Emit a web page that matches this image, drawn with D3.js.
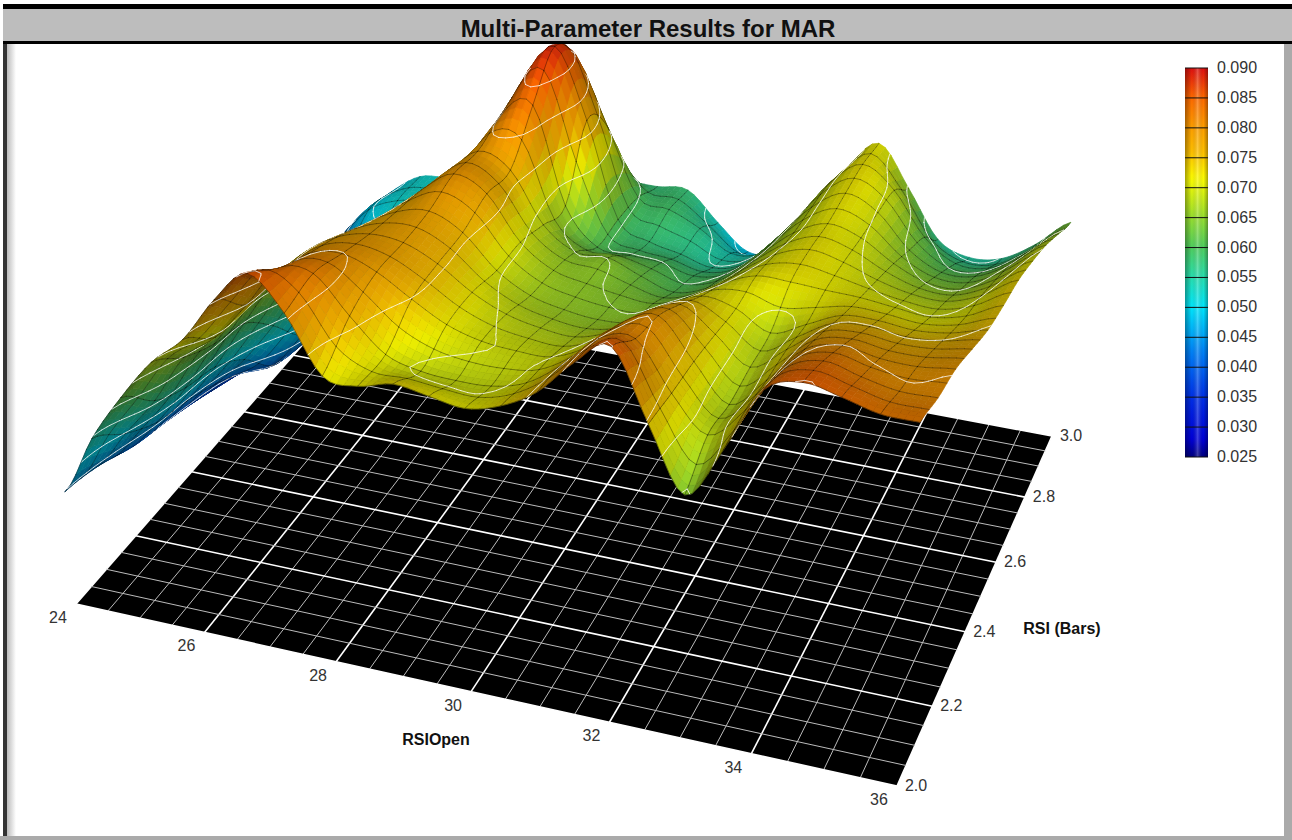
<!DOCTYPE html>
<html><head><meta charset="utf-8">
<script src="https://cdn.jsdelivr.net/npm/d3@7"></script>
<style>html,body{margin:0;padding:0;background:#fff;overflow:hidden}svg{display:block}text{font-family:"Liberation Sans",Arial,sans-serif}</style>
</head><body><svg id="chart" width="1292" height="840"></svg>
<script>
// -----------------------------------------
//DATA
// -----------------------------------------
var xTicks=[24,26,28,30,32,34,36]; //RSIOpen
var yTicks=[2.0,2.2,2.4,2.6,2.8,3.0]; //RSI (Bars)
var barTicks=[0.090,0.085,0.080,0.075,0.070,0.065,0.060,0.055,0.050,0.045,0.040,0.035,0.030,0.025];
var colorDomain=[0.025,0.028,0.035,0.0425,0.05,0.055,0.06,0.065,0.0715,0.076,0.08,0.085,0.09];
var colorRange=["#000080","#0000d8","#0030e8","#0080f8","#00e8ff","#28e0b0","#50d060","#98e030","#ffff00","#ffc000","#ffa000","#ff6a00","#e01010"];
//MAR (x 1000), one row per RSI (Bars) value, RSIOpen 24 to 36 by 0.5
var mar20=[44.4,54.4,62.2,68.9,73.6,80.8,85.8,80.8,72.1,71.6,73.0,72.2,71.4,72.9,76.1,81.6,85.1,74.5,64.7,72.8,82.9,85.1,84.0,82.6,82.5];
var mar21=[42.9,49.7,56.3,64.5,68.8,75.0,81.7,81.9,76.3,71.3,69.7,69.3,69.5,71.1,75.0,80.1,81.1,73.8,68.4,73.4,80.8,83.0,81.7,80.6,80.7];
var mar22=[40.4,46.1,53.1,61.5,68.4,74.2,79.1,80.1,78.2,74.9,71.9,70.3,69.8,69.9,72.5,77.4,79.5,73.4,67.7,72.6,78.5,80.1,79.2,79.0,79.7];
var mar23=[38.8,44.3,51.3,59.7,67.5,73.4,76.9,78.4,78.0,75.6,72.0,69.5,68.3,67.9,69.8,73.8,76.2,72.5,68.3,72.2,76.1,76.9,76.3,76.5,77.5];
var mar24=[37.0,41.9,47.3,54.2,62.0,69.0,74.1,77.2,78.3,75.8,70.6,67.5,66.2,65.6,66.2,69.6,72.5,71.5,68.6,71.0,73.5,73.7,73.2,73.8,75.3];
var mar25=[35.0,38.8,41.0,47.4,55.4,63.7,70.7,76.1,79.7,77.4,70.4,66.7,65.5,64.6,64.2,66.2,69.5,71.8,71.8,71.5,71.3,70.7,70.2,71.4,74.1];
var mar26=[33.2,36.3,39.7,44.7,51.3,58.4,65.9,73.6,78.9,76.7,68.5,64.9,64.9,62.8,61.1,62.8,66.7,70.4,72.2,71.1,69.2,67.9,67.7,69.7,73.2];
var mar27=[31.0,35.8,40.5,45.2,49.8,54.6,60.6,69.5,80.5,83.0,67.0,60.9,60.5,60.2,58.9,60.2,64.5,69.2,71.7,70.3,67.0,64.8,64.7,67.4,71.4];
var mar28=[31.1,38.8,45.2,49.5,52.4,55.5,58.8,64.3,80.5,88.5,77.0,60.9,58.0,56.8,55.4,57.1,62.7,68.8,72.1,69.8,64.4,61.6,61.9,64.9,69.2];
var mar29=[35.7,43.2,49.3,51.9,52.8,54.6,55.6,57.5,70.0,81.0,71.5,60.1,58.9,56.5,53.1,54.2,60.3,68.2,72.4,68.9,61.8,58.2,58.4,61.7,66.3];
var mar30=[37.1,42.9,48.0,51.7,52.4,53.5,54.0,54.1,55.8,56.9,57.4,57.4,57.7,52.8,48.5,49.5,56.1,65.7,71.5,64.6,56.6,54.4,55.2,58.7,63.5];
var marRows=[mar20,mar21,mar22,mar23,mar24,mar25,mar26,mar27,mar28,mar29,mar30];

// -----------------------------------------
//THE VIEW: floor corners on screen, and where the uprights meet
// -----------------------------------------
var p0=[76,604],p1=[897,786],p2=[1052,436],p3=[340,302],vp=[582,5755],cz=-1.1,zFloor=0.025;
var dx1=p1[0]-p2[0],dx2=p3[0]-p2[0],sx0=p0[0]-p1[0]+p2[0]-p3[0],dy1=p1[1]-p2[1],dy2=p3[1]-p2[1],sy0=p0[1]-p1[1]+p2[1]-p3[1];
var den=dx1*dy2-dx2*dy1,g=(sx0*dy2-dx2*sy0)/den,h=(dx1*sy0-sx0*dy1)/den;
var a1=p1[0]-p0[0]+g*p1[0],a2=p3[0]-p0[0]+h*p3[0],b1=p1[1]-p0[1]+g*p1[1],b2=p3[1]-p0[1]+h*p3[1];
function proj(u,v,z){var e=(z-zFloor)*cz,W=1+g*u+h*v+e;return [(p0[0]+a1*u+a2*v+vp[0]*e)/W,(p0[1]+b1*u+b2*v+vp[1]*e)/W,W];}

var xScale=d3.scaleLinear().domain([24,36]).range([0,1]);
var yScale=d3.scaleLinear().domain([2,3]).range([0,1]);
var colorScale=d3.scaleLinear().domain(colorDomain).range(colorRange);
var barY=d3.scaleLinear().domain([0.025,0.09]).range([457,68]);
var line=d3.line();
function fp(x,y){var p=proj(xScale(x),yScale(y),zFloor);return [p[0],p[1]];}
function xy(p){return [p[0],p[1]];}

var svg=d3.select("#chart");
var defs=svg.append("defs");
var gl=defs.append("linearGradient").attr("id","leftShade");
gl.append("stop").attr("offset",0).attr("stop-color","#bbb");
gl.append("stop").attr("offset",1).attr("stop-color","#fff");
var gb=defs.append("linearGradient").attr("id","barShade");
[[0,.35,"#000"],[.3,0,"#000"],[.55,.25,"#fff"],[.8,0,"#000"],[1,.35,"#000"]].forEach(function(s){
  gb.append("stop").attr("offset",s[0]).attr("stop-color",s[2]).attr("stop-opacity",s[1]);
});
var gt=defs.append("linearGradient").attr("id","barColor").attr("x1",0).attr("x2",0).attr("y1",1).attr("y2",0);
d3.range(0.025,0.0901,0.001).forEach(function(v){
  gt.append("stop").attr("offset",(v-0.025)/0.065).attr("stop-color",colorScale(v));
});
defs.append("clipPath").attr("id","plotClip").append("rect").attr("x",6).attr("y",44).attr("width",1280).attr("height",790);

// -----------------------------------------
//FRAME AND TITLE
// -----------------------------------------
svg.append("rect").attr("width",1292).attr("height",840).attr("fill","#fff");
svg.append("rect").attr("x",7).attr("y",44).attr("width",9).attr("height",792).attr("fill","url(#leftShade)");
svg.append("rect").attr("x",3).attr("y",4).attr("width",4).attr("height",836).attr("fill","#333");
svg.append("rect").attr("x",1284).attr("y",4).attr("width",8).attr("height",836).attr("fill","#aaa");
svg.append("rect").attr("x",0).attr("y",836).attr("width",1292).attr("height",4).attr("fill","#aaa");
svg.append("rect").attr("x",3).attr("y",9).attr("width",1289).attr("height",32).attr("fill","#bdbdbd");
svg.append("rect").attr("x",3).attr("y",4).attr("width",1289).attr("height",5).attr("fill","#000");
svg.append("rect").attr("x",3).attr("y",41).attr("width",1289).attr("height",3).attr("fill","#000");
svg.append("text").attr("x",648).attr("y",37).attr("text-anchor","middle").attr("font-weight","bold").attr("font-size",24).attr("fill","#111").text("Multi-Parameter Results for MAR");

// -----------------------------------------
//FLOOR
// -----------------------------------------
var floor=svg.append("g");
floor.append("path").attr("d",line([fp(24,2),fp(36,2),fp(36,3),fp(24,3)])+"Z").attr("fill","#000");
d3.range(0,25).forEach(function(i){
  var x=24+i/2,major=i%4==0;
  floor.append("path").attr("d",line([fp(x,2),fp(x,3)])).attr("stroke",major?"#fff":"#bbb").attr("stroke-width",major?1.6:1).attr("fill","none");
});
d3.range(0,21).forEach(function(i){
  var y=2+i/20,major=i%4==0;
  floor.append("path").attr("d",line([fp(24,y),fp(36,y)])).attr("stroke",major?"#fff":"#bbb").attr("stroke-width",major?1.6:1).attr("fill","none");
});

// -----------------------------------------
//SURFACE, far cells first
// -----------------------------------------
function cr(a,b,c,d,t){return 0.5*(2*b+(c-a)*t+(2*a-5*b+4*c-d)*t*t+(3*b-a-3*c+d)*t*t*t);}
function zAt(cu,cv){
  var nr=marRows.length,nc=marRows[0].length,i=Math.min(Math.floor(cu),nc-2),j=Math.min(Math.floor(cv),nr-2),tu=cu-i,tv=cv-j,col=[];
  for(var q=-1;q<=2;q++){
    var rw=marRows[Math.max(0,Math.min(nr-1,j+q))];
    col.push(cr(rw[Math.max(0,i-1)],rw[i],rw[i+1],rw[Math.min(nc-1,i+2)],tu));
  }
  return cr(col[0],col[1],col[2],col[3],tv)/1000;
}
var NU=120,NV=60,grid=[];
for(var j=0;j<=NV;j++){
  var rr=[];
  for(var i=0;i<=NU;i++){rr.push(zAt(i/NU*24,j/NV*10));}
  grid.push(rr);
}
var items=[],L=[0.36,-0.72,0.6],V=[0.45,-0.6,0.66];
var levels=d3.range(0.03,0.0951,0.005);
for(j=0;j<NV;j++)for(i=0;i<NU;i++){
  var u0=i/NU,u1=(i+1)/NU,v0=j/NV,v1=(j+1)/NV,za=grid[j][i],zb=grid[j][i+1],zc=grid[j+1][i+1],zd=grid[j+1][i];
  var A=proj(u0,v0,za),B=proj(u1,v0,zb),C=proj(u1,v1,zc),D=proj(u0,v1,zd),W=(A[2]+B[2]+C[2]+D[2])/4;
  var zm=(za+zb+zc+zd)/4;
  var nx=-((zb+zc-za-zd)/2)*6/(1/NU),ny=-((zc+zd-za-zb)/2)*6/(0.7/NV),nl=Math.sqrt(nx*nx+ny*ny+1);
  nx/=nl;ny/=nl;
  var nz=1/nl,dv=nx*V[0]+ny*V[1]+nz*V[2],dl=nx*L[0]+ny*L[1]+nz*L[2],sh;
  if(dv<0){sh=0.5+0.35*Math.max(0,-dl);}else{sh=0.45+0.55*Math.max(0,dl);}
  var col=d3.rgb(colorScale(Math.min(.09,zm)));
  col=d3.rgb(Math.min(255,col.r*sh),Math.min(255,col.g*sh),Math.min(255,col.b*sh));
  items.push({k:W,d:line([A,B,C,D].map(xy))+"Z",fill:col.formatHex(),stroke:col.formatHex(),sw:0.7});
  //mesh
  var m="";
  if(j%3==0)m+=line([A,B].map(xy));
  if(i%5==0)m+=line([A,D].map(xy));
  if(m)items.push({k:W-0.006,d:m,fill:"none",stroke:"#000",sw:1,op:0.34});
  //contours
  var cs="";
  levels.forEach(function(lv){
    var q=[];
    function cross(ua,va,z1,ub,vb,z2){
      if((z1<lv)!=(z2<lv)){var t=(lv-z1)/(z2-z1);q.push(xy(proj(ua+(ub-ua)*t,va+(vb-va)*t,lv)));}
    }
    cross(u0,v0,za,u1,v0,zb);cross(u1,v0,zb,u1,v1,zc);cross(u1,v1,zc,u0,v1,zd);cross(u0,v1,zd,u0,v0,za);
    if(q.length>=2)cs+=line(q.slice(0,2));
    if(q.length==4)cs+=line(q.slice(2,4));
  });
  if(cs)items.push({k:W-0.0065,d:cs,fill:"none",stroke:"#fff",sw:1,op:0.75});
}
items.sort(function(a,b){return b.k-a.k;});
svg.append("g").attr("clip-path","url(#plotClip)").selectAll("path").data(items).join("path")
  .attr("d",function(d){return d.d;})
  .attr("fill",function(d){return d.fill;})
  .attr("stroke",function(d){return d.stroke;})
  .attr("stroke-width",function(d){return d.sw;})
  .attr("stroke-opacity",function(d){return d.op||1;})
  .attr("stroke-linecap","round");

// -----------------------------------------
//AXIS LABELS
// -----------------------------------------
svg.append("g").selectAll("text").data(xTicks).join("text")
  .attr("x",function(d){return fp(d,2)[0]-18;})
  .attr("y",function(d){return fp(d,2)[1]+19;})
  .attr("text-anchor","middle").attr("font-size",16).attr("fill","#333")
  .text(function(d){return d;});
svg.append("g").selectAll("text").data(yTicks).join("text")
  .attr("x",function(d){return fp(36,d)[0]+19;})
  .attr("y",function(d){return fp(36,d)[1]+5;})
  .attr("text-anchor","middle").attr("font-size",16).attr("fill","#333")
  .text(function(d){return d.toFixed(1);});
svg.append("text").attr("x",436).attr("y",745).attr("text-anchor","middle").attr("font-weight","bold").attr("font-size",16).attr("fill","#111").text("RSIOpen");
svg.append("text").attr("x",1062).attr("y",634).attr("text-anchor","middle").attr("font-weight","bold").attr("font-size",16).attr("fill","#111").text("RSI (Bars)");

// -----------------------------------------
//COLOUR BAR
// -----------------------------------------
svg.append("rect").attr("x",1185).attr("y",68).attr("width",23).attr("height",389).attr("fill","url(#barColor)");
svg.append("rect").attr("x",1185).attr("y",68).attr("width",23).attr("height",389).attr("fill","url(#barShade)");
svg.append("g").selectAll("line").data(barTicks).join("line")
  .attr("x1",1185).attr("x2",1208).attr("y1",barY).attr("y2",barY)
  .attr("stroke","#111").attr("stroke-width",1);
svg.append("g").selectAll("text").data(barTicks).join("text")
  .attr("x",1217).attr("y",function(d){return barY(d)+5;})
  .attr("font-size",16).attr("fill","#333")
  .text(function(d){return d.toFixed(3);});
</script></body></html>
